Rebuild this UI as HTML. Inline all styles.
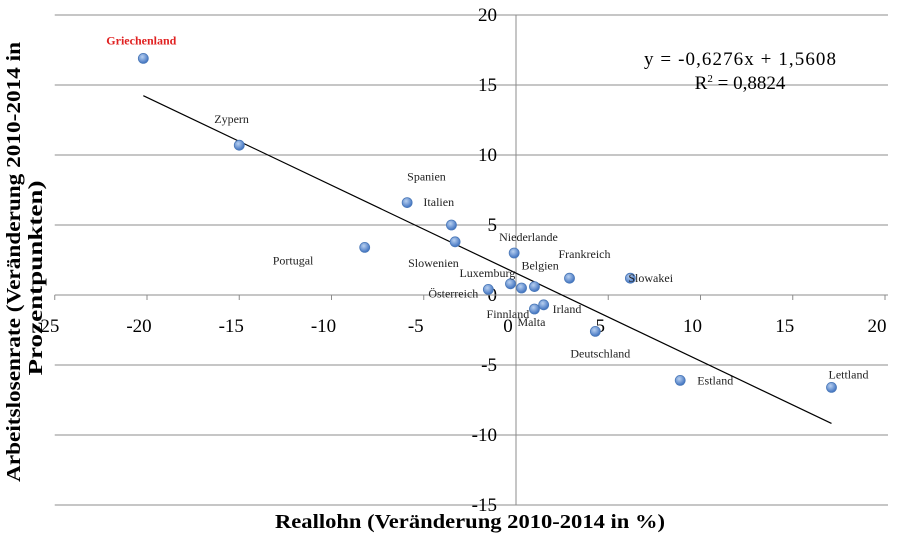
<!DOCTYPE html>
<html><head><meta charset="utf-8"><style>
html,body{margin:0;padding:0;background:#fff;}
svg{display:block;font-family:"Liberation Serif",serif;}
</style></head><body>
<svg id="chart" width="900" height="540" viewBox="0 0 900 540" xmlns="http://www.w3.org/2000/svg">
<g id="grid"></g>
<g id="axes"></g>
<g id="trend"></g>
<g id="pts"></g>
<g id="lbls"></g>
<text x="740" y="65" font-size="19" text-anchor="middle" textLength="192">y = -0,6276x + 1,5608</text>
<text x="740" y="89" font-size="19" text-anchor="middle">R<tspan font-size="11" dy="-7">2</tspan><tspan dy="7"> = 0,8824</tspan></text>
<text x="470" y="528" font-size="20" font-weight="bold" text-anchor="middle" textLength="390" lengthAdjust="spacingAndGlyphs">Reallohn (Veränderung 2010-2014  in %)</text>
<text transform="translate(20,262) rotate(-90)" font-size="20" font-weight="bold" text-anchor="middle" textLength="440" lengthAdjust="spacingAndGlyphs">Arbeitslosenrate (Veränderung 2010-2014  in</text>
<text transform="translate(42,278) rotate(-90)" font-size="20" font-weight="bold" text-anchor="middle" textLength="195" lengthAdjust="spacingAndGlyphs">Prozentpunkten)</text>
</svg>
<script>
const countries=["Griechenland","Zypern","Spanien","Italien","Slowenien","Portugal","Niederlande","Frankreich","Slowakei","Belgien","Luxemburg","Finnland","Österreich","Malta","Irland","Deutschland","Estland","Lettland"];
const wageChange=[-20.2,-15.0,-5.9,-3.5,-3.3,-8.2,-0.1,2.9,6.2,1.0,-0.3,0.3,-1.5,1.0,1.5,4.3,8.9,17.1];
const unempChange=[16.9,10.7,6.6,5.0,3.8,3.4,3.0,1.2,1.2,0.6,0.8,0.5,0.4,-1.0,-0.7,-2.6,-6.1,-6.6];
const xTicks=[-25,-20,-15,-10,-5,0,5,10,15,20];
const yTicks=[-15,-10,-5,0,5,10,15,20];
const slope=-0.6276, intercept=1.5608;
// label offsets (layout, not data)
const lblOff=[[-37,-14],[-25,-22],[0,-22],[-28,-19],[-47,25],[-92,17],[-15,-12],[-11,-20],[-2,4],[-13,-17],[-51,-7],[-35,30],[-60,8],[-17,17],[9,8],[-25,26],[17,4],[-3,-9]];

const NS="http://www.w3.org/2000/svg";
const X=v=>516+v*18.45, Y=v=>295-v*14;
function mk(tag,attrs,parent,txt){const e=document.createElementNS(NS,tag);for(const k in attrs)e.setAttribute(k,attrs[k]);if(txt!==undefined)e.textContent=txt;parent.appendChild(e);return e;}
const grid=document.getElementById('grid'),axes=document.getElementById('axes');
yTicks.forEach(t=>{
  if(t!==0){const l=mk('line',{x1:X(-25),x2:888,y1:Y(t),y2:Y(t),stroke:'#8c8c8c','stroke-width':1},grid);
  
  }
  const tx=mk('text',{x:497,y:Y(t)+6,'font-size':19,'text-anchor':'end'},axes,String(t));
  
  
});
const xa=mk('line',{x1:X(-25),x2:888,y1:Y(0),y2:Y(0),stroke:'#8c8c8c','stroke-width':1},axes);


const ya=mk('line',{x1:X(0),x2:X(0),y1:Y(20),y2:Y(-15),stroke:'#8c8c8c','stroke-width':1},axes);


xTicks.forEach(t=>{
  const tk=mk('line',{x1:X(t),x2:X(t),y1:Y(0),y2:Y(0)+5,stroke:'#8c8c8c'},axes);
  
  
  const tx=mk('text',{x:X(t)-8,y:Y(0)+37,'font-size':19,'text-anchor':'middle'},axes,String(t));
  
  
});
const tr=document.getElementById('trend');
const xmin=Math.min(...wageChange),xmax=Math.max(...wageChange);
const tl=mk('line',{x1:X(xmin),y1:Y(slope*xmin+intercept),x2:X(xmax),y2:Y(slope*xmax+intercept),stroke:'#000','stroke-width':1.2},tr);


const defs=mk('defs',{},document.getElementById('chart'));
const g=mk('radialGradient',{id:'pg',cx:'40%',cy:'35%',r:'65%'},defs);
mk('stop',{offset:'0%','stop-color':'#b8d0f0'},g);mk('stop',{offset:'100%','stop-color':'#3f72c0'},g);
const pts=document.getElementById('pts'),lbls=document.getElementById('lbls');
countries.forEach((c,i)=>{
  const cx=X(wageChange[i]),cy=Y(unempChange[i]);
  const p=mk('circle',{cx:cx,cy:cy,r:5,fill:'url(#pg)',stroke:'#4a78b8','stroke-width':0.8},pts);
  
  
  const red=c==='Griechenland';
  const t=mk('text',{x:cx+lblOff[i][0],y:cy+lblOff[i][1],'font-size':12,fill:red?'#e02020':'#222','font-weight':red?'bold':'normal'},lbls,c);
  
  
});
</script>
</body></html>
